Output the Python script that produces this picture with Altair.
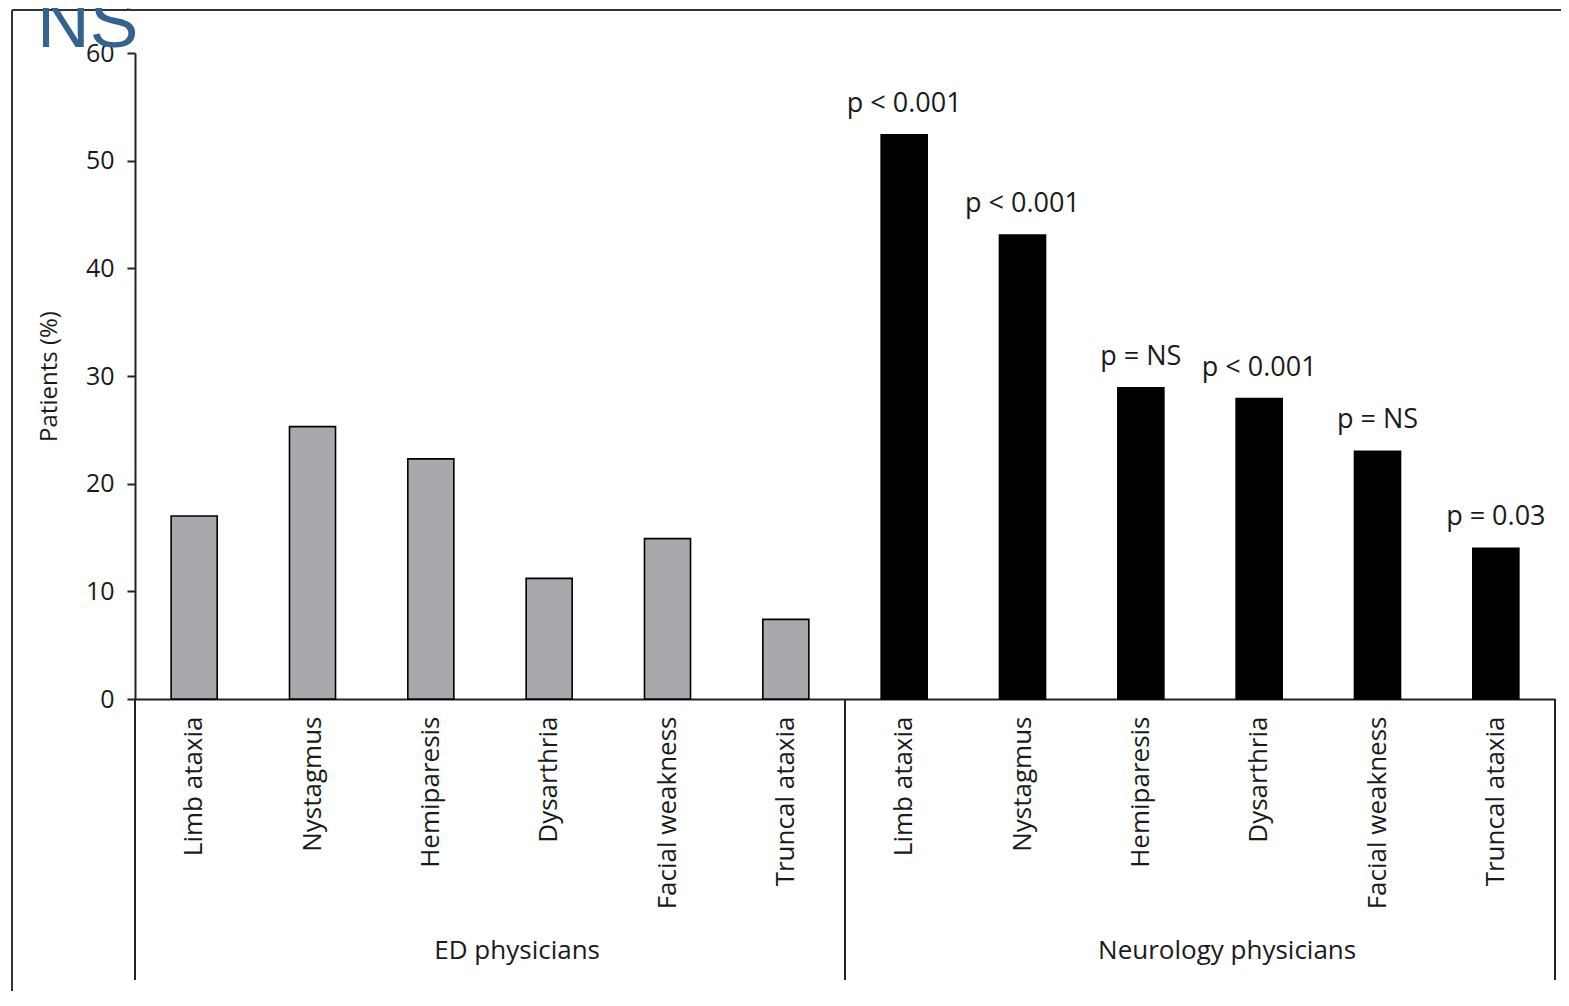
import altair as alt
import pandas as pd

# ---- data ----
group_names = ["ED physicians", "Neurology physicians"]
symptoms = ["Limb ataxia", "Nystagmus", "Hemiparesis", "Dysarthria",
            "Facial weakness", "Truncal ataxia"]
ed_values = [17.0, 25.3, 22.3, 11.2, 14.9, 7.4]
neuro_values = [52.4, 43.1, 28.9, 27.9, 23.0, 14.0]
neuro_p_labels = ["p < 0.001", "p < 0.001", "p = NS", "p < 0.001", "p = NS", "p = 0.03"]
y_ticks = [0, 10, 20, 30, 40, 50, 60]
stray_text = "NS"

FONT = "Open Sans"
W, H = 1420, 646
PAD_IN = 0.611
STEP = W / 12.0
HALF_GAP = STEP * PAD_IN / 2  # distance from band edge to step edge (px)

rows = []
for g, vals, plabs in [(group_names[0], ed_values, [""] * 6),
                       (group_names[1], neuro_values, neuro_p_labels)]:
    for s, v, p in zip(symptoms, vals, plabs):
        rows.append({"key": f"{g}|{s}", "group": g, "symptom": s, "value": v, "p": p})
df = pd.DataFrame(rows)
keys = list(df["key"])

xscale = alt.Scale(domain=keys, paddingInner=PAD_IN, paddingOuter=PAD_IN / 2)
yscale = alt.Scale(domain=[0, 60], nice=False)

base = alt.Chart(df)

bars = base.mark_bar(stroke="black", strokeWidth=1.6).encode(
    x=alt.X("key:N", scale=xscale, sort=keys, title=None,
            axis=alt.Axis(labelExpr="split(datum.label, '|')[1]", labelAngle=-90,
                          ticks=False, labelPadding=17, labelFont=FONT,
                          labelFontSize=26, labelColor="#1a1a1a", labelLimit=0,
                          domainColor="#222", domainWidth=2)),
    y=alt.Y("value:Q", scale=yscale, title="Patients (%)",
            axis=alt.Axis(values=y_ticks, grid=False, tickSize=8, tickColor="#222",
                          tickWidth=2, domainColor="#222", domainWidth=2,
                          labelFont=FONT, labelFontSize=25, labelColor="#1a1a1a",
                          labelFontWeight=500, labelPadding=13, titleFont=FONT,
                          titleFontSize=24, titleFontWeight="normal",
                          titleColor="#1a1a1a", titlePadding=24)),
    color=alt.Color("group:N", scale=alt.Scale(domain=group_names,
                                               range=["#a7a9ac", "#000000"]),
                    legend=None),
)

plabels = base.transform_filter(alt.datum.p != "").mark_text(
    font=FONT, fontSize=27, color="#1a1a1a", baseline="middle", dy=-31
).encode(
    x=alt.X("key:N", scale=xscale, sort=keys),
    y=alt.Y("value:Q", scale=yscale),
    text="p:N",
)

# separators below the axis (left, middle, right)
sep_specs = [(keys[0], 0, -HALF_GAP), (keys[5], 1, HALF_GAP), (keys[11], 1, HALF_GAP)]
seps = []
for k, bp, off in sep_specs:
    seps.append(alt.Chart(pd.DataFrame({"key": [k]})).mark_rule(
        color="#222", strokeWidth=2, xOffset=off).encode(
        x=alt.X("key:N", scale=xscale, sort=keys, bandPosition=bp),
        y=alt.value(H), y2=alt.value(927)))

grp_df = pd.DataFrame({"key": [keys[3], keys[9]], "group": group_names})
grp_text = alt.Chart(grp_df).mark_text(
    font=FONT, fontSize=26, color="#1a1a1a", baseline="middle", dx=-9
).encode(
    x=alt.X("key:N", scale=xscale, sort=keys, bandPosition=0),
    y=alt.value(898),
    text="group:N",
)

PAD_B, PAD_R = 292, 6

# outer frame (top and left edges; the rest lies outside the picture)
one = pd.DataFrame({"a": [0]})
frame_top = alt.Chart(one).mark_rule(color="#333", strokeWidth=2).encode(
    x=alt.value(-123), x2=alt.value(W + PAD_R), y=alt.value(-43))
frame_left = alt.Chart(one).mark_rule(color="#333", strokeWidth=2).encode(
    x=alt.value(-123), y=alt.value(-43), y2=alt.value(H + PAD_B))

ns = alt.Chart(pd.DataFrame({"t": [stray_text]})).mark_text(
    font="Liberation Sans", fontSize=73, color="#35638f", align="left",
    baseline="alphabetic"
).encode(x=alt.value(-98), y=alt.value(-6), text="t:N")

chart = alt.layer(frame_top, frame_left, bars, plabels, *seps, grp_text, ns).properties(
    width=W, height=H,
    padding={"left": 127, "top": 45, "right": PAD_R, "bottom": PAD_B},
    autosize=alt.AutoSizeParams(type="none"),
).configure_view(stroke=None)

chart.save("out.html", embed_options={"renderer": "svg", "actions": False})
